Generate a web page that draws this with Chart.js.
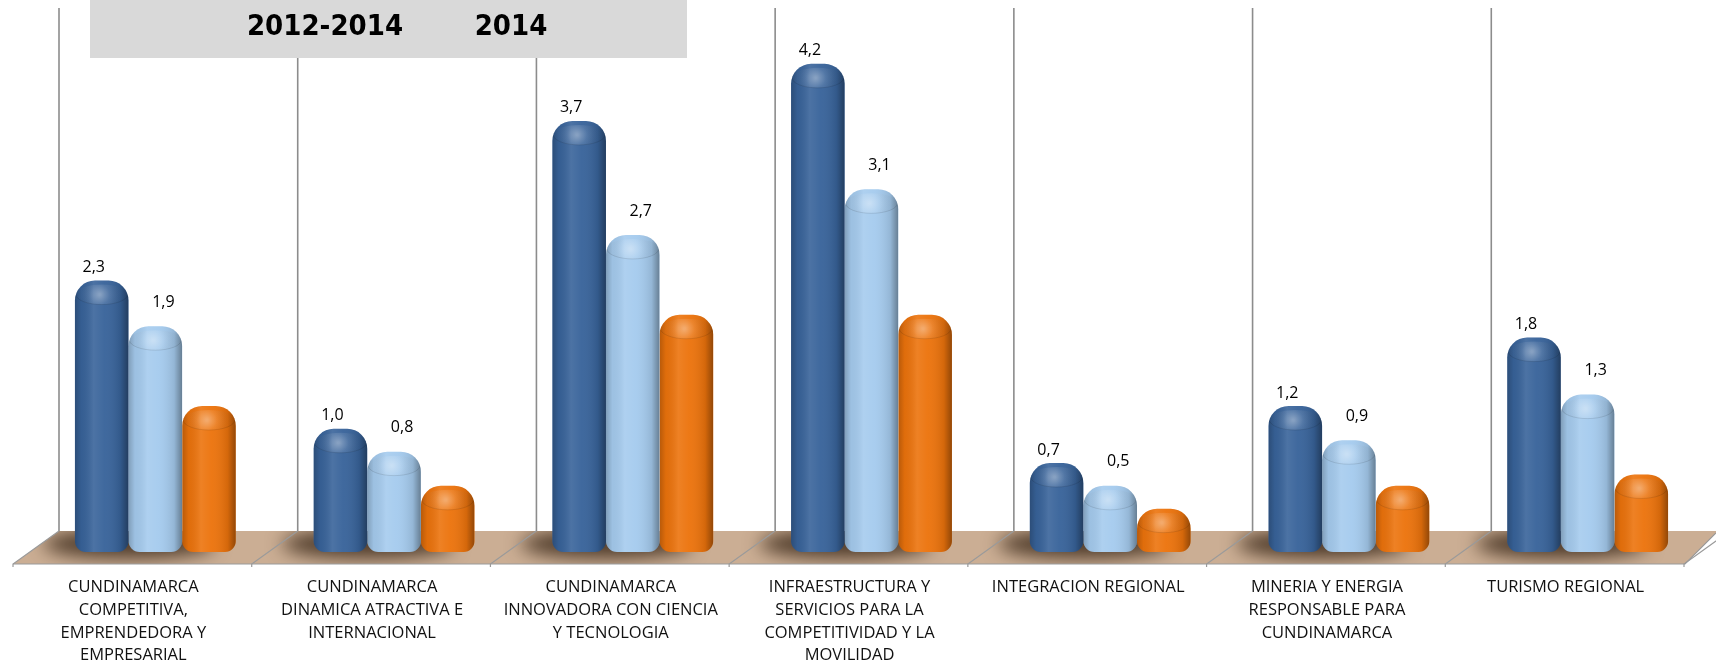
<!DOCTYPE html>
<html lang="es">
<head>
<meta charset="utf-8">
<title>Inversión por programa</title>
<script src="https://cdn.jsdelivr.net/npm/chart.js@4.4.1/dist/chart.umd.min.js"></script>
<style>
  html, body { margin: 0; padding: 0; background: #fff; }
  #wrap { width: 1716px; height: 664px; position: relative; }
</style>
</head>
<body>
<div id="wrap"><canvas id="grafico"></canvas></div>
<script>
// datos del grafico
const categorias = [
  ['CUNDINAMARCA', 'COMPETITIVA,', 'EMPRENDEDORA Y', 'EMPRESARIAL'],
  ['CUNDINAMARCA', 'DINAMICA ATRACTIVA E', 'INTERNACIONAL'],
  ['CUNDINAMARCA', 'INNOVADORA CON CIENCIA', 'Y TECNOLOGIA'],
  ['INFRAESTRUCTURA Y', 'SERVICIOS PARA LA', 'COMPETITIVIDAD Y LA', 'MOVILIDAD'],
  ['INTEGRACION REGIONAL'],
  ['MINERIA Y ENERGIA', 'RESPONSABLE PARA', 'CUNDINAMARCA'],
  ['TURISMO REGIONAL']
];
const serie2012_2014 = [2.3, 1.0, 3.7, 4.2, 0.7, 1.2, 1.8];
const serie2014 = [1.9, 0.8, 2.7, 3.1, 0.5, 0.9, 1.3];
const serie3 = [1.2, 0.5, 2.0, 2.0, 0.3, 0.5, 0.6];
const etiquetasSeries = ['2012-2014', '2014', 'Serie 3'];

// colores
const colores = {
  azul: '#38639A',
  celeste: '#A5CBEE',
  naranja: '#EC730C',
  piso: '#CBAE94',
  linea: '#8C8C8C',
  caja: '#D9D9D9'
};

const fmt = v => v.toFixed(1).replace('.', ',');

// paredes, piso y sombras
const pisoPlugin = {
  id: 'piso',
  beforeDatasetsDraw(chart) {
    const ctx = chart.ctx;
    const x = chart.scales.x;
    const area = chart.chartArea;
    const cat = x.width / categorias.length;
    const fondoY = area.bottom - 21;
    const frenteY = area.bottom + 12;
    const prof = 23;

    ctx.save();
    // lineas verticales de la pared
    ctx.strokeStyle = colores.linea;
    ctx.lineWidth = 1.6;
    for (let i = 0; i < categorias.length; i++) {
      const bx = x.getPixelForValue(i) - cat / 2 + prof;
      ctx.beginPath();
      ctx.moveTo(bx, 8);
      ctx.lineTo(bx, fondoY);
      ctx.stroke();
    }

    // piso
    const izq = x.left, der = x.right;
    ctx.beginPath();
    ctx.moveTo(izq + prof, fondoY);
    ctx.lineTo(chart.width, fondoY);
    ctx.lineTo(chart.width, fondoY + 2);
    ctx.lineTo(der - prof + 1, frenteY);
    ctx.lineTo(izq - prof, frenteY);
    ctx.closePath();
    ctx.fillStyle = colores.piso;
    ctx.fill();

    // sombras bajo las barras
    ctx.save();
    ctx.clip();
    ctx.filter = 'blur(9px)';
    ctx.fillStyle = 'rgba(45, 28, 12, 0.8)';
    for (let i = 0; i < categorias.length; i++) {
      const c = x.getPixelForValue(i);
      ctx.beginPath();
      ctx.ellipse(c - 26, area.bottom - 8, cat * 0.36, 14, 0, 0, Math.PI * 2);
      ctx.fill();
    }
    ctx.restore();

    // bordes del piso
    ctx.strokeStyle = '#9A9A9A';
    ctx.lineWidth = 1.2;
    ctx.beginPath();
    ctx.moveTo(izq - prof, frenteY);
    ctx.lineTo(der - prof + 1, frenteY);
    ctx.lineTo(chart.width, fondoY + 2);
    ctx.stroke();
    for (let i = 0; i <= categorias.length; i++) {
      const bx = izq + cat * i;
      ctx.beginPath();
      ctx.moveTo(bx + prof, fondoY);
      ctx.lineTo(bx - prof, frenteY);
      ctx.lineTo(bx - prof, frenteY + 3);
      ctx.stroke();
    }

    // caja del encabezado
    ctx.fillStyle = colores.caja;
    ctx.fillRect(90, 0, 597, 58);
    ctx.fillStyle = '#000';
    ctx.font = 'bold 29px "Liberation Sans Narrow", "DejaVu Sans Condensed", sans-serif';
    ctx.textAlign = 'center';
    ctx.textBaseline = 'middle';
    ctx.fillText(etiquetasSeries[0], 325, 27);
    ctx.fillText(etiquetasSeries[1], 511, 27);
    ctx.restore();
  }
};

// sombreado cilindrico y etiquetas
const cilindroPlugin = {
  id: 'cilindro',
  afterDatasetsDraw(chart) {
    const ctx = chart.ctx;
    ctx.save();
    chart.data.datasets.forEach((ds, d) => {
      const meta = chart.getDatasetMeta(d);
      meta.data.forEach((el, i) => {
        const p = el.getProps(['x', 'y', 'base', 'width'], true);
        const l = p.x - p.width / 2;
        const h = p.base - p.y;

        ctx.save();
        ctx.beginPath();
        ctx.roundRect(l, p.y, p.width, h, [20, 20, 11, 11]);
        ctx.clip();

        const g = ctx.createLinearGradient(l, 0, l + p.width, 0);
        g.addColorStop(0, 'rgba(0,0,0,0.22)');
        g.addColorStop(0.12, 'rgba(0,0,0,0.05)');
        g.addColorStop(0.35, 'rgba(255,255,255,0.10)');
        g.addColorStop(0.55, 'rgba(255,255,255,0.04)');
        g.addColorStop(0.85, 'rgba(0,0,0,0.10)');
        g.addColorStop(1, 'rgba(0,0,0,0.38)');
        ctx.fillStyle = g;
        ctx.fillRect(l, p.y, p.width, h);

        // tapa superior
        const cy = p.y + 14;
        const rg = ctx.createRadialGradient(p.x - 2, cy, 1, p.x - 2, cy, p.width / 2);
        rg.addColorStop(0, 'rgba(255,255,255,0.35)');
        rg.addColorStop(0.35, 'rgba(255,255,255,0.10)');
        rg.addColorStop(1, 'rgba(0,0,0,0.0)');
        ctx.beginPath();
        ctx.ellipse(p.x, cy, p.width / 2, 10, 0, 0, Math.PI * 2);
        ctx.fillStyle = rg;
        ctx.fill();
        ctx.strokeStyle = 'rgba(0,0,0,0.10)';
        ctx.lineWidth = 1;
        ctx.beginPath();
        ctx.ellipse(p.x, cy, p.width / 2 - 1, 10, 0, 0, Math.PI);
        ctx.stroke();
        ctx.restore();

        // etiquetas de valor (solo las dos primeras series)
        if (d < 2) {
          ctx.fillStyle = '#000';
          ctx.font = '16px "Open Sans", sans-serif';
          ctx.textAlign = 'center';
          ctx.textBaseline = 'middle';
          const dx = d === 0 ? -8 : 8;
          const dy = d === 0 ? 13 : 24;
          ctx.fillText(fmt(ds.data[i]), p.x + dx, p.y - dy);
        }
      });
    });
    ctx.restore();
  }
};

const radio = { topLeft: 20, topRight: 20, bottomLeft: 11, bottomRight: 11 };

new Chart(document.getElementById('grafico'), {
  type: 'bar',
  data: {
    labels: categorias,
    datasets: [
      { label: etiquetasSeries[0], data: serie2012_2014, backgroundColor: colores.azul },
      { label: etiquetasSeries[1], data: serie2014, backgroundColor: colores.celeste },
      { label: etiquetasSeries[2], data: serie3, backgroundColor: colores.naranja }
    ]
  },
  options: {
    responsive: true,
    maintainAspectRatio: false,
    animation: false,
    datasets: {
      bar: {
        base: -0.08,
        barPercentage: 1.0,
        categoryPercentage: 0.674,
        borderRadius: radio,
        borderSkipped: false,
        borderWidth: 0
      }
    },
    layout: { padding: { left: 36, right: 9, top: 0, bottom: 0 } },
    plugins: {
      legend: { display: false },
      tooltip: { enabled: false }
    },
    scales: {
      x: {
        grid: { display: false, drawTicks: false },
        border: { display: false },
        ticks: {
          color: '#111',
          font: { family: '"Open Sans", sans-serif', size: 16.5, lineHeight: 1.38 },
          labelOffset: -22,
          padding: 24,
          maxRotation: 0,
          minRotation: 0,
          autoSkip: false
        },
        afterFit: (scale) => { scale.height = 112; }
      },
      y: {
        display: false,
        min: -0.08,
        max: 4.76
      }
    }
  },
  plugins: [pisoPlugin, cilindroPlugin]
});
</script>
</body>
</html>
